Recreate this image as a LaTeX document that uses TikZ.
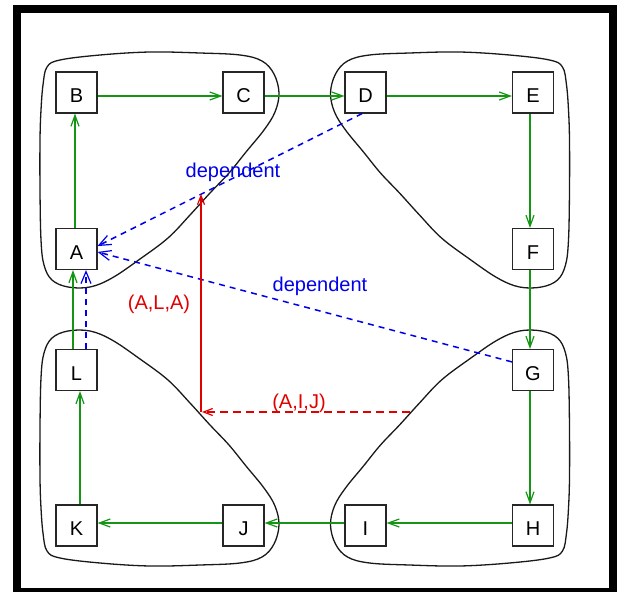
\documentclass[tikz,border=0pt]{standalone}
\usepackage{fontspec}
\setmainfont{Liberation Sans}
\usetikzlibrary{arrows.meta}
\definecolor{edgegreen}{RGB}{20,150,20}
\definecolor{depblue}{RGB}{0,0,235}
\definecolor{pathred}{RGB}{225,0,0}
\newcommand\hullshape{%
  \draw[hull] plot[smooth cycle, tension=0.6] coordinates {
    (47,67) (60,60) (100,55) (150,52) (200,53) (240,55) (262,61) (274,74)
    (279,93) (275,112) (264,130) (246,152) (229,173) (210,193) (190,215)
    (168,238) (140,259) (112,278) (90,287) (68,287) (52,280) (44,265)
    (41,240) (40,190) (40,140) (41,110) (43,85)};}
\begin{document}
\begin{tikzpicture}[x=1pt,y=-1pt,
  vbox/.style={draw=black!85, line width=1.1pt, minimum width=41pt, minimum height=41pt,
    inner sep=0pt, text height=20.4pt, text depth=0pt, font=\fontsize{20}{20}\selectfont},
  flow/.style={draw=edgegreen, line width=1.7pt,
    -{Straight Barb[length=11pt,width=8pt,line width=1.2pt]}},
  dep/.style={draw=depblue, line width=1.5pt, dash pattern=on 6pt off 5pt,
    -{Straight Barb[length=12pt,width=10pt,line width=1.2pt]}},
  redpath/.style={draw=pathred, line width=1.4pt,
    -{Straight Barb[length=9pt,width=7pt,line width=1.2pt]}},
  hull/.style={draw=black!90, line width=1.3pt},
  lbl/.style={font=\fontsize{20}{20}\selectfont, inner sep=0pt}]
\useasboundingbox (0,0) rectangle (619,592);
% frame
\draw[line width=8pt] (16.7,8.8) rectangle (612.5,592);
% hulls
\hullshape
\begin{scope}[xshift=609.5pt, xscale=-1]\hullshape\end{scope}
\begin{scope}[yshift=-618pt, yscale=-1]\hullshape\end{scope}
\begin{scope}[xshift=609.5pt, yshift=-618pt, xscale=-1, yscale=-1]\hullshape\end{scope}
% nodes
\node[vbox] (B) at (76.5,92.5) {B};
\node[vbox] (C) at (243.5,92.5) {C};
\node[vbox] (D) at (365.5,92.5) {D};
\node[vbox] (E) at (533,92.5) {E};
\node[vbox] (A) at (76.5,249) {A};
\node[vbox] (F) at (533,249) {F};
\node[vbox] (L) at (76.5,370) {L};
\node[vbox] (G) at (533,370) {G};
\node[vbox] (K) at (76.5,525.5) {K};
\node[vbox] (J) at (243.5,525.5) {J};
\node[vbox] (I) at (365.5,525.5) {I};
\node[vbox] (H) at (533,525.5) {H};
% green flow edges
\draw[flow] ([yshift=-3.5pt]B.east) -- ([yshift=-3.5pt]C.west);
\draw[flow] ([yshift=-3.5pt]C.east) -- ([yshift=-3.5pt]D.west);
\draw[flow] ([yshift=-3.5pt]D.east) -- ([yshift=-3.5pt]E.west);
\draw[flow] ([xshift=-3pt]E.south) -- ([xshift=-3pt]F.north);
\draw[flow] ([xshift=-3pt]F.south) -- ([xshift=-3pt]G.north);
\draw[flow] ([xshift=-3pt]G.south) -- ([xshift=-3pt]H.north);
\draw[flow] ([yshift=2.5pt]H.west) -- ([yshift=2.5pt]I.east);
\draw[flow] ([yshift=2.5pt]I.west) -- ([yshift=2.5pt]J.east);
\draw[flow] ([yshift=2.5pt]J.west) -- ([yshift=2.5pt]K.east);
\draw[flow] ([xshift=3.5pt]K.north) -- ([xshift=3.5pt]L.south);
\draw[flow] ([xshift=-3.5pt]L.north) -- ([xshift=-3.5pt]A.south);
\draw[flow] ([xshift=-1.5pt]A.north) -- ([xshift=-1.5pt]B.south);
% blue dependent edges
\draw[dep] (D.261) -- (A.8);
\draw[dep] (G.159) -- (A.352);
\draw[dep] ([xshift=9.5pt]L.north) -- ([xshift=9.5pt]A.south);
\node[lbl, text=depblue] (dep1) at (233,172) {dependent};
\node[lbl, text=depblue] (dep2) at (320,286) {dependent};
% red path arrows
\coordinate (rtop) at (201,194);
\coordinate (rcorner) at (201,412);
\coordinate (rright) at (410,412);
\draw[redpath] (rcorner) -- (rtop);
\draw[redpath, dash pattern=on 8pt off 5pt] (rright) -- ([xshift=1pt]rcorner);
\node[lbl, text=pathred] (lal) at (159,304) {(A,L,A)};
\node[lbl, text=pathred] (aij) at (299,403) {(A,I,J)};
\end{tikzpicture}
\end{document}
